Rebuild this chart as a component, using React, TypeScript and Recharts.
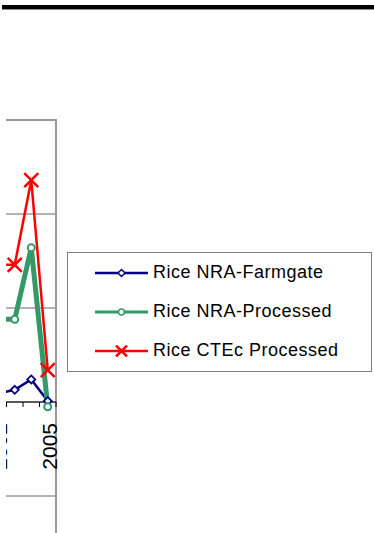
import React from 'react';
import { LineChart, Line, XAxis, YAxis, CartesianGrid, ReferenceLine, ReferenceArea, Legend } from 'recharts';

const years = [2002, 2003, 2004, 2005];
const farmgate = [0.045, 0.065, 0.12, 0.005];
const processed = [0.44, 0.44, 0.82, -0.025];
const ctec = [0.73, 0.73, 1.18, 0.17];

const xTicks = [2001.5, 2002, 2002.5, 2003.5, 2004.5, 2005, 2005.5];
const yTicks = [-1, -0.5, 0, 0.5, 1, 1.5];
const X_DOMAIN: [number, number] = [2001.5, 2005.5];
const Y_MIN = -1;
const Y_MAX = 1.5;

const seriesOrder = ['farmgate', 'processed', 'ctec'];
const seriesNames = {
  farmgate: 'Rice NRA-Farmgate',
  processed: 'Rice NRA-Processed',
  ctec: 'Rice CTEc Processed',
};

const data = years.map((year, i) => ({
  year,
  farmgate: farmgate[i],
  processed: processed[i],
  ctec: ctec[i],
}));

const BLUE = '#000080';
const GREEN = '#339966';
const RED = '#FF0000';
const FONT = '"Liberation Sans", Arial, sans-serif';

const PLOT_TOP = 120;
const PLOT_H = 470;
const ZERO_OFFSET = (PLOT_H * (0 - Y_MIN)) / (Y_MAX - Y_MIN);

const AxisTick = (props: any) => {
  const { x, y, payload } = props;
  const zy = y - ZERO_OFFSET;
  const v = payload.value;
  if (Number.isInteger(v)) {
    const ly = zy + 21;
    return (
      <text
        x={x}
        y={ly}
        transform={`rotate(-90 ${x} ${ly})`}
        textAnchor="end"
        dy="0.42em"
        fontSize={21}
        fontFamily={FONT}
        fill="#000"
      >
        {v}
      </text>
    );
  }
  return <line x1={x} y1={zy} x2={x} y2={zy + 5} stroke="#000" strokeWidth={1} />;
};

const DiamondDot = (props: any) => {
  const { cx, cy } = props;
  if (cx == null || cy == null) return <g />;
  const r = 4;
  return (
    <path
      d={`M${cx},${cy - r}L${cx + r},${cy}L${cx},${cy + r}L${cx - r},${cy}Z`}
      fill="#fff"
      stroke={BLUE}
      strokeWidth={1.8}
    />
  );
};

const CircleDot = (props: any) => {
  const { cx, cy } = props;
  if (cx == null || cy == null) return <g />;
  return <circle cx={cx} cy={cy} r={3.5} fill="#fff" stroke={GREEN} strokeWidth={2} />;
};

const CrossDot = (props: any) => {
  const { cx, cy } = props;
  if (cx == null || cy == null) return <g />;
  const r = 7;
  return (
    <path
      d={`M${cx - r},${cy - r}L${cx + r},${cy + r}M${cx - r},${cy + r}L${cx + r},${cy - r}`}
      stroke={RED}
      strokeWidth={2.5}
      fill="none"
    />
  );
};

const LegendMarker = ({ kind }: { kind: string }) => {
  const cx = 26.5;
  const cy = 6;
  if (kind === 'farmgate') {
    const r = 3.5;
    return (
      <g>
        <line x1={0} y1={cy} x2={53} y2={cy} stroke={BLUE} strokeWidth={2.5} />
        <path d={`M${cx},${cy - r}L${cx + r},${cy}L${cx},${cy + r}L${cx - r},${cy}Z`} fill="#fff" stroke={BLUE} strokeWidth={1.5} />
      </g>
    );
  }
  if (kind === 'processed') {
    return (
      <g>
        <line x1={0} y1={cy} x2={53} y2={cy} stroke={GREEN} strokeWidth={3} />
        <circle cx={cx} cy={cy} r={3} fill="#fff" stroke={GREEN} strokeWidth={1.5} />
      </g>
    );
  }
  const r = 5.5;
  return (
    <g>
      <line x1={0} y1={cy} x2={53} y2={cy} stroke={RED} strokeWidth={2.5} />
      <path d={`M${cx - r},${cy - r}L${cx + r},${cy + r}M${cx - r},${cy + r}L${cx + r},${cy - r}`} stroke={RED} strokeWidth={2.5} />
    </g>
  );
};

const LegendContent = (props: any) => {
  const payload = [...(props.payload || [])].sort(
    (a: any, b: any) => seriesOrder.indexOf(String(a.dataKey)) - seriesOrder.indexOf(String(b.dataKey))
  );
  return (
    <div
      style={{
        width: 305,
        height: 120,
        boxSizing: 'border-box',
        border: '1px solid #808080',
        background: '#fff',
        fontFamily: FONT,
        fontSize: 18,
        letterSpacing: 0.5,
        color: '#000',
      }}
    >
      {payload.map((entry: any) => (
        <div
          key={String(entry.dataKey)}
          style={{ height: 39, display: 'flex', alignItems: 'center', whiteSpace: 'nowrap' }}
        >
          <svg width={53} height={12} style={{ marginLeft: 27, marginRight: 5, display: 'block' }}>
            <LegendMarker kind={String(entry.dataKey)} />
          </svg>
          <span>{entry.value}</span>
        </div>
      ))}
    </div>
  );
};

export default function App() {
  return (
    <div
      style={{
        position: 'fixed',
        left: 0,
        top: 0,
        width: 374,
        height: 533,
        overflow: 'hidden',
        background: '#fff',
      }}
    >
      <div
        style={{
          position: 'absolute',
          left: 2,
          top: 5,
          width: 372,
          height: 4,
          background: '#000',
          borderBottom: '1px solid #8a8a8a',
        }}
      />
      <div
        style={{
          position: 'absolute',
          left: 6,
          top: 0,
          width: 368,
          height: 533,
          overflow: 'hidden',
        }}
      >
        <div style={{ position: 'absolute', left: -36, top: 0 }}>
          <LineChart
            width={404}
            height={600}
            data={data}
            margin={{ top: PLOT_TOP, right: 318, bottom: 0, left: 20 }}
          >
            <CartesianGrid vertical={false} stroke="#666" strokeWidth={1} />
            <ReferenceArea
              x1={X_DOMAIN[0]}
              x2={X_DOMAIN[1]}
              y1={Y_MIN}
              y2={Y_MAX}
              fill="none"
              fillOpacity={0}
              stroke="#999"
              strokeWidth={2}
              strokeOpacity={1}
            />
            <XAxis
              dataKey="year"
              type="number"
              domain={X_DOMAIN}
              ticks={xTicks}
              interval={0}
              axisLine={false}
              tickLine={false}
              tickSize={0}
              tickMargin={0}
              height={10}
              tick={<AxisTick />}
            />
            <YAxis type="number" domain={[Y_MIN, Y_MAX]} ticks={yTicks} hide width={0} />
            <ReferenceLine y={0} stroke="#000" strokeWidth={1} />
            <Legend
              layout="horizontal"
              verticalAlign="middle"
              align="center"
              itemSorter={null as any}
              content={<LegendContent />}
              wrapperStyle={{ position: 'absolute', left: 97, top: 252, width: 305, height: 120 }}
            />
            <Line
              type="linear"
              dataKey="farmgate"
              name={seriesNames.farmgate}
              stroke={BLUE}
              strokeWidth={2.5}
              dot={<DiamondDot />}
              activeDot={false}
              isAnimationActive={false}
            />
            <Line
              type="linear"
              dataKey="processed"
              name={seriesNames.processed}
              stroke={GREEN}
              strokeWidth={5}
              dot={<CircleDot />}
              activeDot={false}
              isAnimationActive={false}
            />
            <Line
              type="linear"
              dataKey="ctec"
              name={seriesNames.ctec}
              stroke={RED}
              strokeWidth={2.5}
              dot={<CrossDot />}
              activeDot={false}
              isAnimationActive={false}
            />
          </LineChart>
        </div>
      </div>
    </div>
  );
}
